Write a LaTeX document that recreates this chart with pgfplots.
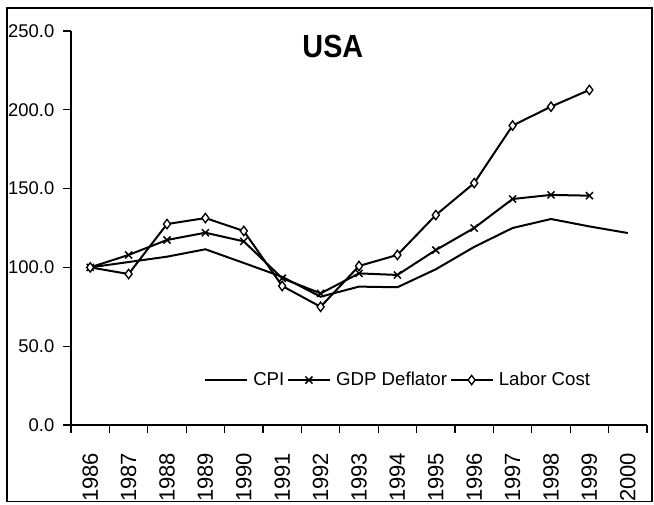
\documentclass[border=0pt]{standalone}
\usepackage{fontspec}
\setmainfont{Liberation Sans}
\newfontfamily\titlefont{Liberation Sans}[FakeStretch=0.9]
\usepackage{pgfplots}
\pgfplotsset{compat=1.18}
\begin{document}
\begin{tikzpicture}
\useasboundingbox (-53.25pt,-60pt) rectangle (437.25pt,318.75pt);
\draw[line width=0.9pt] (-48pt,-57.5pt) rectangle (435.75pt,312.75pt);
\begin{axis}[
  at={(0,0)}, anchor=south west,
  scale only axis, width=432pt, height=295.5pt,
  axis lines=left, axis line style={-, line width=1pt},
  xmin=-0.5, xmax=14.5, ymin=0, ymax=250,
  xtick={-0.5,0.5,...,14.5},
  x tick label as interval,
  xticklabels={1986,1987,1988,1989,1990,1991,1992,1993,1994,1995,1996,1997,1998,1999,2000,},
  ytick={0,50,100,150,200,250},
  tick align=outside, major tick length=6pt,
  tick style={black, line width=0.8pt},
  xticklabel style={yshift=-11.5pt, rotate=90, anchor=east, font=\fontsize{16.5}{18}\selectfont},
  yticklabel style={font=\fontsize{13.8}{15}\selectfont, xshift=-3pt},
  /pgf/number format/.cd, fixed, fixed zerofill, precision=1, assume math mode=true,
  /pgfplots/.cd,
  clip=false,
  legend columns=3,
  legend style={draw=none, fill=none, at={(0.5686,0.114)}, anchor=center,
    font=\fontsize{14}{16}\selectfont,
    /tikz/every even column/.append style={column sep=0pt},
    /tikz/every odd column/.append style={column sep=2pt}},
  legend image code/.code={\draw[mark repeat=2,mark phase=2,#1] plot coordinates {(0cm,0cm) (0.55cm,0cm) (1.1cm,0cm)};},
]
\addplot[black, line width=1.5pt, mark=none] coordinates {
(0,100) (1,103.4) (2,106.8) (3,111.5) (4,102.8) (5,94) (6,81.4) (7,87.8) (8,87.4) (9,98.8) (10,113) (11,125) (12,130.7) (13,126) (14,121.8)};
\addlegendentry{CPI}
\addplot[black, line width=1.5pt, mark=x, mark size=3.75pt, mark options={line width=1.1pt}] coordinates {
(0,100) (1,107.9) (2,117.4) (3,122) (4,116.5) (5,93.1) (6,83.5) (7,96.2) (8,95.2) (9,111) (10,125) (11,143.4) (12,146) (13,145.5)};
\addlegendentry{GDP Deflator}
\addplot[black, line width=1.5pt, mark=diamond*, mark size=3.5pt, mark options={fill=white, line width=1pt}] coordinates {
(0,100) (1,95.8) (2,127.5) (3,131.3) (4,123.1) (5,88.2) (6,75) (7,100.9) (8,107.9) (9,133.2) (10,153.5) (11,190) (12,202) (13,212.6)};
\addlegendentry{Labor Cost}
\node[font=\titlefont\bfseries\fontsize{24}{26}\selectfont] at (axis cs:6.32,240) {USA};
\end{axis}
\end{tikzpicture}
\end{document}
